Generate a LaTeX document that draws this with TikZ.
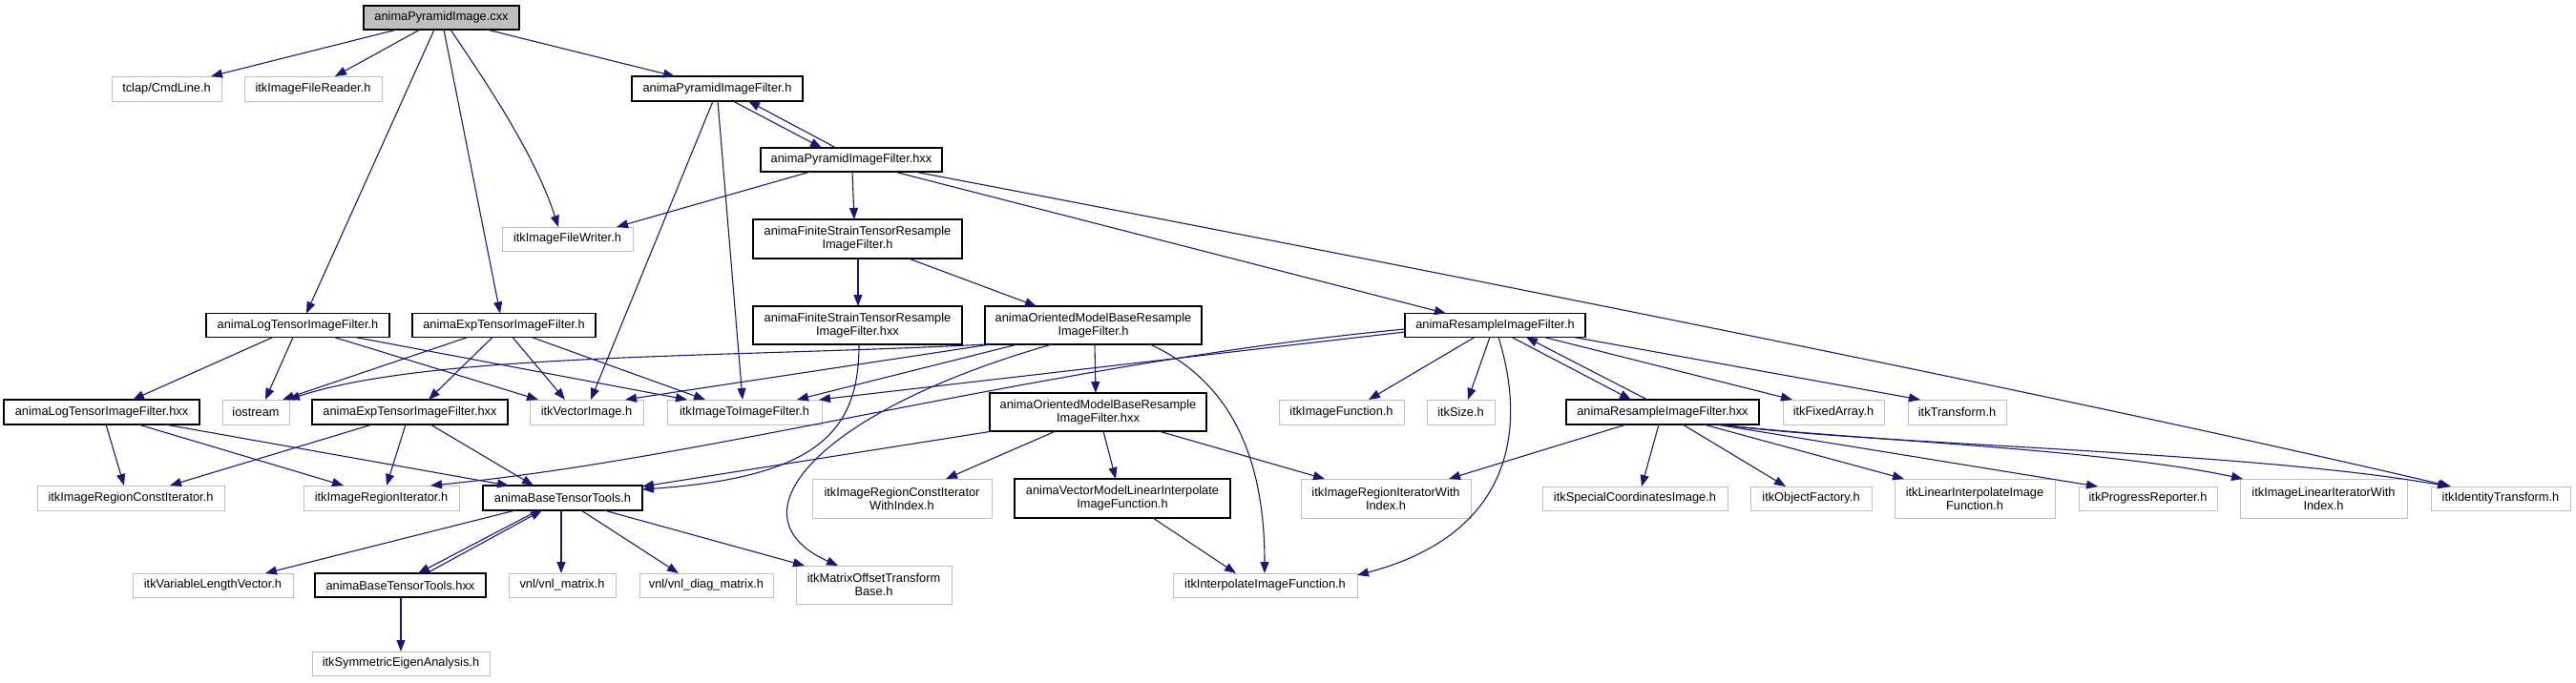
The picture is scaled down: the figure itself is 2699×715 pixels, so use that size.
\documentclass[tikz,border=0pt]{standalone}
\usepackage{fontspec}
\setmainfont{Liberation Sans}
\usetikzlibrary{arrows.meta}
\definecolor{edgecol}{HTML}{191970}
\definecolor{graybd}{HTML}{BFBFBF}
\definecolor{rootfill}{HTML}{BFBFBF}
\begin{document}
\begin{tikzpicture}[x=1pt,y=-1pt,
  base/.style={inner sep=0pt,outer sep=0pt,align=center,
    font=\fontsize{12.8}{14}\selectfont},
  docbox/.style={base,draw=black,line width=1.2pt,fill=white},
  extbox/.style={base,draw=graybd,line width=1pt,fill=white},
  rootbox/.style={base,draw=black,line width=1.2pt,fill=rootfill},
  e/.style={draw=edgecol,line width=1.1pt,-{Triangle[length=12pt,width=9pt]}}]
\useasboundingbox (0,0) rectangle (2699,715);
% nodes
\node[rootbox,minimum width=163pt,minimum height=25pt] (root) at (462.5,18.5) {animaPyramidImage.cxx};
\node[extbox,minimum width=115pt,minimum height=26pt] (cmd) at (174.5,93) {tclap/CmdLine.h};
\node[extbox,minimum width=144pt,minimum height=26pt] (rdr) at (328,93) {itkImageFileReader.h};
\node[docbox,minimum width=179pt,minimum height=26pt] (pifh) at (751.5,93) {animaPyramidImageFilter.h};
\node[docbox,minimum width=190pt,minimum height=25pt] (pifx) at (892,167.5) {animaPyramidImageFilter.hxx};
\node[extbox,minimum width=137pt,minimum height=25pt] (wr) at (594.5,250.5) {itkImageFileWriter.h};
\node[docbox,minimum width=219pt,minimum height=41pt] (fsh) at (898.5,250.5) {animaFiniteStrainTensorResample\\ImageFilter.h};
\node[docbox,minimum width=219pt,minimum height=40pt] (fsx) at (898.5,341) {animaFiniteStrainTensorResample\\ImageFilter.hxx};
\node[docbox,minimum width=227pt,minimum height=40pt] (omb) at (1145.5,341) {animaOrientedModelBaseResample\\ImageFilter.h};
\node[docbox,minimum width=192pt,minimum height=25pt] (logh) at (312,341) {animaLogTensorImageFilter.h};
\node[docbox,minimum width=192pt,minimum height=25pt] (exph) at (528,341) {animaExpTensorImageFilter.h};
\node[docbox,minimum width=189pt,minimum height=25pt] (rsh) at (1566.5,341) {animaResampleImageFilter.h};
\node[docbox,minimum width=205pt,minimum height=26pt] (logx) at (106.5,432) {animaLogTensorImageFilter.hxx};
\node[extbox,minimum width=70pt,minimum height=26pt] (ios) at (268,432) {iostream};
\node[docbox,minimum width=205pt,minimum height=26pt] (expx) at (429.5,432) {animaExpTensorImageFilter.hxx};
\node[extbox,minimum width=119pt,minimum height=26pt] (vec) at (614.5,432) {itkVectorImage.h};
\node[extbox,minimum width=162pt,minimum height=26pt] (i2i) at (780,432) {itkImageToImageFilter.h};
\node[docbox,minimum width=227pt,minimum height=40pt] (ombx) at (1150.5,432) {animaOrientedModelBaseResample\\ImageFilter.hxx};
\node[extbox,minimum width=131pt,minimum height=26pt] (imf) at (1405.5,432) {itkImageFunction.h};
\node[extbox,minimum width=71pt,minimum height=26pt] (size) at (1530.5,432) {itkSize.h};
\node[docbox,minimum width=202pt,minimum height=26pt] (rsx) at (1742,432) {animaResampleImageFilter.hxx};
\node[extbox,minimum width=106pt,minimum height=26pt] (fix) at (1921,432) {itkFixedArray.h};
\node[extbox,minimum width=103pt,minimum height=26pt] (trf) at (2050.5,432) {itkTransform.h};
\node[extbox,minimum width=196pt,minimum height=26pt] (rci) at (137,522) {itkImageRegionConstIterator.h};
\node[extbox,minimum width=163pt,minimum height=26pt] (ri) at (399.5,522) {itkImageRegionIterator.h};
\node[docbox,minimum width=167pt,minimum height=26pt] (btt) at (589.5,522) {animaBaseTensorTools.h};
\node[extbox,minimum width=188pt,minimum height=41pt] (rciwi) at (945,522.5) {itkImageRegionConstIterator\\WithIndex.h};
\node[docbox,minimum width=226pt,minimum height=41pt] (vml) at (1176,522.5) {animaVectorModelLinearInterpolate\\ImageFunction.h};
\node[extbox,minimum width=178pt,minimum height=41pt] (riwi) at (1452,522.5) {itkImageRegionIteratorWith\\Index.h};
\node[extbox,minimum width=194pt,minimum height=25pt] (spc) at (1713,522.5) {itkSpecialCoordinatesImage.h};
\node[extbox,minimum width=127pt,minimum height=25pt] (obf) at (1897.5,522.5) {itkObjectFactory.h};
\node[extbox,minimum width=168pt,minimum height=41pt] (lin) at (2069,522.5) {itkLinearInterpolateImage\\Function.h};
\node[extbox,minimum width=145pt,minimum height=25pt] (prg) at (2250.5,522.5) {itkProgressReporter.h};
\node[extbox,minimum width=175pt,minimum height=41pt] (liwi) at (2434.5,522.5) {itkImageLinearIteratorWith\\Index.h};
\node[extbox,minimum width=146pt,minimum height=25pt] (idt) at (2620,522.5) {itkIdentityTransform.h};
\node[extbox,minimum width=168pt,minimum height=25pt] (vlv) at (223,613.5) {itkVariableLengthVector.h};
\node[docbox,minimum width=179pt,minimum height=25pt] (bttx) at (419.5,613.5) {animaBaseTensorTools.hxx};
\node[extbox,minimum width=112pt,minimum height=25pt] (vnlm) at (589,613.5) {vnl/vnl\_matrix.h};
\node[extbox,minimum width=140pt,minimum height=25pt] (vnld) at (740,613.5) {vnl/vnl\_diag\_matrix.h};
\node[extbox,minimum width=163pt,minimum height=40pt] (mot) at (915.5,613) {itkMatrixOffsetTransform\\Base.h};
\node[extbox,minimum width=193pt,minimum height=25pt] (ipf) at (1325.5,613.5) {itkInterpolateImageFunction.h};
\node[extbox,minimum width=186pt,minimum height=25pt] (sym) at (420,695.5) {itkSymmetricEigenAnalysis.h};
% edges
\draw[e] (416,0 |- root.south) -- (221,0 |- cmd.north);
\draw[e] (440,0 |- root.south) -- (351,0 |- rdr.north);
\draw[e] (510,0 |- root.south) -- (707,0 |- pifh.north);
\draw[e] (472,0 |- root.south) .. controls (505,80) and (560,160) .. (585,0 |- wr.north);
\draw[e] (455,0 |- root.south) -- (321,0 |- logh.north);
\draw[e] (465,0 |- root.south) -- (524,0 |- exph.north);
\draw[e] (768,0 |- pifh.south) -- (861,0 |- pifx.north);
\draw[e] (876,0 |- pifx.north) -- (784,0 |- pifh.south);
\draw[e] (747,0 |- pifh.south) -- (619,0 |- vec.north);
\draw[e] (752,0 |- pifh.south) -- (778,0 |- i2i.north);
\draw[e] (849,0 |- pifx.south) -- (646,0 |- wr.north);
\draw[e] (893,0 |- pifx.south) -- (895,0 |- fsh.north);
\draw[e] (937,0 |- pifx.south) -- (1515,0 |- rsh.north);
\draw[e] (958,0 |- pifx.south) .. controls (1300,245) and (2100,400) .. (2568,0 |- idt.north);
\draw[e] (899,0 |- fsh.south) -- (899,0 |- fsx.north);
\draw[e] (952,0 |- fsh.south) -- (1086,0 |- omb.north);
\draw[e] (900,0 |- fsx.south) .. controls (900,450) and (860,500) .. (btt.east |- 0,513);
\draw[e] (1034,0 |- omb.south) .. controls (760,375) and (450,370) .. (302,0 |- ios.north);
\draw[e] (1038,0 |- omb.south) -- (655,0 |- vec.north);
\draw[e] (1066,0 |- omb.south) -- (835,0 |- i2i.north);
\draw[e] (1102,0 |- omb.south) .. controls (860,430) and (760,540) .. (878,0 |- mot.north);
\draw[e] (1147,0 |- omb.south) -- (1148,0 |- ombx.north);
\draw[e] (1205,0 |- omb.south) .. controls (1290,400) and (1325,480) .. (1325,0 |- ipf.north);
\draw[e] (1040,0 |- ombx.south) -- (btt.east |- 0,510);
\draw[e] (1106,0 |- ombx.south) -- (991,0 |- rciwi.north);
\draw[e] (1156,0 |- ombx.south) -- (1169,0 |- vml.north);
\draw[e] (1214,0 |- ombx.south) -- (1388,0 |- riwi.north);
\draw[e] (1208,0 |- vml.south) -- (1295,0 |- ipf.north);
\draw[e] (286,0 |- logh.south) -- (139,0 |- logx.north);
\draw[e] (307,0 |- logh.south) -- (278,0 |- ios.north);
\draw[e] (350,0 |- logh.south) -- (564,0 |- vec.north);
\draw[e] (372,0 |- logh.south) -- (720,0 |- i2i.north);
\draw[e] (490,0 |- exph.south) -- (296,0 |- ios.north);
\draw[e] (516,0 |- exph.south) -- (449,0 |- expx.north);
\draw[e] (537,0 |- exph.south) -- (592,0 |- vec.north);
\draw[e] (557,0 |- exph.south) -- (739,0 |- i2i.north);
\draw[e] (111,0 |- logx.south) -- (130,0 |- rci.north);
\draw[e] (145,0 |- logx.south) -- (360,0 |- ri.north);
\draw[e] (173,0 |- logx.south) -- (533,0 |- btt.north);
\draw[e] (390,0 |- expx.south) -- (178,0 |- rci.north);
\draw[e] (425,0 |- expx.south) -- (405,0 |- ri.north);
\draw[e] (451,0 |- expx.south) -- (559,0 |- btt.north);
\draw[e] (rsh.west |- 0,345) .. controls (1100,380) and (750,480) .. (451,0 |- ri.north);
\draw[e] (rsh.west |- 0,348) -- (858,0 |- i2i.north);
\draw[e] (1545,0 |- rsh.south) -- (1434,0 |- imf.north);
\draw[e] (1561,0 |- rsh.south) -- (1538,0 |- size.north);
\draw[e] (1570,0 |- rsh.south) .. controls (1600,450) and (1585,560) .. (ipf.east |- 0,603);
\draw[e] (1584,0 |- rsh.south) -- (1709,0 |- rsx.north);
\draw[e] (1726,0 |- rsx.north) -- (1599,0 |- rsh.south);
\draw[e] (1618,0 |- rsh.south) -- (1878,0 |- fix.north);
\draw[e] (1649,0 |- rsh.south) -- (2012,0 |- trf.north);
\draw[e] (1704,0 |- rsx.south) -- (1518,0 |- riwi.north);
\draw[e] (1738,0 |- rsx.south) -- (1720,0 |- spc.north);
\draw[e] (1763,0 |- rsx.south) -- (1871,0 |- obf.north);
\draw[e] (1785,0 |- rsx.south) -- (1995,0 |- lin.north);
\draw[e] (1798,0 |- rsx.south) -- (2198,0 |- prg.north);
\draw[e] (1800,0 |- rsx.south) .. controls (1950,462) and (2200,470) .. (2350,0 |- liwi.north);
\draw[e] (1802,0 |- rsx.south) .. controls (1950,466) and (2350,472) .. (2566,0 |- idt.north);
\draw[e] (540,0 |- btt.south) -- (278,0 |- vlv.north);
\draw[e] (564,0 |- btt.south) -- (438,0 |- bttx.north);
\draw[e] (447,0 |- bttx.north) -- (568,0 |- btt.south);
\draw[e] (588,0 |- btt.south) -- (588,0 |- vnlm.north);
\draw[e] (609,0 |- btt.south) -- (711,0 |- vnld.north);
\draw[e] (633,0 |- btt.south) -- (843,0 |- mot.north);
\draw[e] (420,0 |- bttx.south) -- (420,0 |- sym.north);
\end{tikzpicture}
\end{document}
